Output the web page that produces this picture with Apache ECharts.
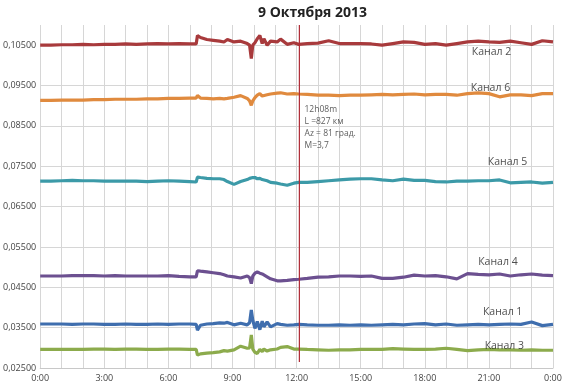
<!DOCTYPE html>
<html>
<head>
<meta charset="utf-8">
<script src="https://cdn.jsdelivr.net/npm/echarts@6/dist/echarts.min.js"></script>
<style>html,body{margin:0;padding:0;background:#fff;}#c{width:571px;height:390px;}</style>
</head>
<body>
<div id="c"></div>
<script>
const title = '9 Октября 2013';
const hours = [0,0.5,1,1.5,2,2.5,3,3.5,4,4.5,5,5.5,6,6.5,7,
  7.3,7.36,7.5,7.8,8.1,8.4,8.6,8.76,9.07,9.38,9.69,9.8,9.88,9.95,10.05,10.16,10.28,10.39,10.47,10.62,10.78,11.09,11.25,11.56,11.87,12.1,
  12.5,13,13.5,14,14.5,15,15.5,16,16.5,17,17.5,18,18.5,19,19.5,20,20.5,21,21.5,22,22.5,23,23.5,24];

const channel2 = [0.1050,0.1050,0.1051,0.1051,0.1052,0.1051,0.1052,0.1052,0.1053,0.1052,0.1053,0.1054,0.1053,0.1054,0.1053,
  0.1053,0.1074,0.1069,0.1064,0.1062,0.1060,0.1058,0.1064,0.1058,0.1060,0.1054,0.1050,0.1017,0.1050,0.1056,0.1066,0.1074,0.1054,0.1066,0.1050,0.1060,0.1058,0.1065,0.1052,0.1056,0.1052,
  0.1054,0.1055,0.1061,0.1054,0.1054,0.1054,0.1053,0.1050,0.1054,0.1058,0.1057,0.1052,0.1054,0.1050,0.1054,0.1058,0.1060,0.1058,0.1057,0.1060,0.1056,0.1052,0.1061,0.1058];
const channel6 = [0.0913,0.0913,0.0914,0.0914,0.0914,0.0915,0.0915,0.0916,0.0916,0.0916,0.0917,0.0917,0.0918,0.0918,0.0919,
  0.0919,0.0925,0.0919,0.0918,0.0917,0.0918,0.0917,0.0918,0.0921,0.0925,0.0918,0.0912,0.0901,0.0912,0.0920,0.0926,0.0930,0.0924,0.0926,0.0927,0.0929,0.0931,0.0932,0.0929,0.0930,0.0929,
  0.0928,0.0926,0.0926,0.0925,0.0926,0.0926,0.0927,0.0928,0.0927,0.0928,0.0929,0.0927,0.0928,0.0928,0.0926,0.0930,0.0932,0.0930,0.0922,0.0927,0.0927,0.0925,0.0930,0.0930];
const channel5 = [0.0713,0.0713,0.0714,0.0715,0.0714,0.0714,0.0713,0.0713,0.0713,0.0713,0.0712,0.0713,0.0714,0.0713,0.0712,
  0.0711,0.0723,0.0722,0.0720,0.0719,0.0719,0.0717,0.0712,0.0705,0.0712,0.0717,0.0720,0.0719,0.0722,0.0722,0.0719,0.0720,0.0717,0.0716,0.0714,0.0710,0.0708,0.0706,0.0703,0.0708,0.0710,
  0.0710,0.0712,0.0714,0.0716,0.0718,0.0719,0.0719,0.0716,0.0714,0.0718,0.0715,0.0715,0.0712,0.0711,0.0713,0.0713,0.0714,0.0714,0.0716,0.0709,0.0710,0.0711,0.0708,0.0710];
const channel4 = [0.0478,0.0478,0.0478,0.0479,0.0479,0.0479,0.0478,0.0479,0.0478,0.0478,0.0478,0.0478,0.0479,0.0477,0.0476,
  0.0476,0.0491,0.0490,0.0488,0.0486,0.0484,0.0481,0.0478,0.0476,0.0473,0.0478,0.0474,0.0459,0.0478,0.0485,0.0488,0.0485,0.0483,0.0481,0.0476,0.0471,0.0466,0.0466,0.0467,0.0469,0.0470,
  0.0472,0.0475,0.0476,0.0478,0.0478,0.0477,0.0478,0.0472,0.0472,0.0475,0.0480,0.0478,0.0479,0.0476,0.0471,0.0484,0.0482,0.0481,0.0483,0.0478,0.0481,0.0483,0.0480,0.0479];
const channel1 = [0.0359,0.0359,0.0359,0.0358,0.0359,0.0359,0.0358,0.0358,0.0359,0.0358,0.0358,0.0359,0.0358,0.0359,0.0359,
  0.0358,0.0344,0.0356,0.0359,0.0360,0.0362,0.0361,0.0363,0.0357,0.0361,0.0357,0.0362,0.0394,0.0368,0.0348,0.0365,0.0345,0.0366,0.0352,0.0364,0.0352,0.0360,0.0358,0.0356,0.0357,0.0358,
  0.0357,0.0356,0.0356,0.0357,0.0356,0.0357,0.0356,0.0357,0.0358,0.0357,0.0359,0.0360,0.0357,0.0359,0.0356,0.0357,0.0358,0.0357,0.0358,0.0359,0.0358,0.0364,0.0355,0.0358];
const channel3 = [0.0296,0.0296,0.0296,0.0296,0.0296,0.0297,0.0297,0.0296,0.0297,0.0297,0.0296,0.0296,0.0297,0.0297,0.0296,
  0.0296,0.0282,0.0285,0.0287,0.0288,0.0290,0.0293,0.0292,0.0295,0.0304,0.0299,0.0300,0.0332,0.0297,0.0289,0.0286,0.0296,0.0291,0.0297,0.0292,0.0295,0.0297,0.0301,0.0303,0.0297,0.0297,
  0.0296,0.0295,0.0294,0.0295,0.0295,0.0296,0.0296,0.0296,0.0298,0.0297,0.0296,0.0296,0.0297,0.0299,0.0296,0.0293,0.0295,0.0296,0.0295,0.0295,0.0294,0.0295,0.0294,0.0294];

const channelNames = ['Канал 2','Канал 6','Канал 5','Канал 4','Канал 1','Канал 3'];
const channelData = [channel2, channel6, channel5, channel4, channel1, channel3];
const channelColors = ['#a83a3c','#e08a3e','#3c9aa8','#6c5090','#3f6eae','#8cab4c'];
// label anchors [hour, value]
const labelHours = [20.2, 20.15, 20.95, 20.5, 20.72, 20.8];
const labelValues = [0.1032, 0.0943, 0.0760, 0.0512, 0.0389, 0.0304];

const eventHour = 12.13;
const eventRange = [0.0265, 0.110];
const eventText = '12h08m\nL =827 км\nAz = 81 град.\nM=3,7';
const eventAnchor = [12.37, 0.0847];

const chart = echarts.init(document.getElementById('c'));
const series = channelData.map((arr, i) => ({
  name: channelNames[i],
  type: 'line',
  data: hours.map((h, j) => [h, arr[j]]),
  showSymbol: false,
  symbol: 'none',
  lineStyle: { width: 3.2, color: channelColors[i] },
  itemStyle: { color: channelColors[i] },
  z: 3
}));
series.push({
  type: 'line',
  data: eventRange.map(v => [eventHour, v]),
  showSymbol: false, symbol: 'none',
  lineStyle: { width: 1.2, color: '#b02a35' },
  z: 4
});
series.push({
  type: 'scatter',
  symbolSize: 0,
  data: channelNames.map((n, i) => ({ name: n, value: [labelHours[i], labelValues[i]] })),
  label: { show: true, position: 'right', distance: 0, formatter: p => p.name,
    fontFamily: 'Open Sans, sans-serif', fontSize: 10.5, color: '#222' },
  z: 5
});
series.push({
  type: 'scatter',
  symbolSize: 0,
  data: [{ name: eventText, value: eventAnchor }],
  label: { show: true, position: 'right', distance: 0, formatter: p => p.name,
    fontFamily: 'Open Sans, sans-serif', fontSize: 8.5, lineHeight: 12, color: '#333' },
  z: 5
});

chart.setOption({
  animation: false,
  backgroundColor: '#fff',
  title: { text: title, left: 253, top: 1,
    textStyle: { fontFamily: 'Open Sans, sans-serif', fontSize: 14, fontWeight: 'bold', color: '#222' } },
  grid: { left: 39, right: 18, top: 25, bottom: 22 },
  xAxis: {
    type: 'value', min: 0, max: 24, interval: 1,
    axisLine: { show: true, lineStyle: { color: '#c8c8c8' } },
    axisTick: { show: false },
    axisLabel: { fontFamily: 'Open Sans, sans-serif', fontSize: 9, color: '#444', margin: 6,
      formatter: v => (v % 3 === 0 ? (v % 24) + ':00' : '') },
    splitLine: { show: true, lineStyle: { color: '#d6d6d6', width: 1 } }
  },
  yAxis: {
    type: 'value', min: 0.025, max: 0.110, interval: 0.01,
    axisLine: { show: false },
    axisTick: { show: false },
    axisLabel: { fontFamily: 'Open Sans, sans-serif', fontSize: 9, color: '#444', margin: 4,
      showMaxLabel: false,
      formatter: v => v.toFixed(5).replace('.', ',') },
    splitLine: { show: true, showMaxLine: false, lineStyle: { color: '#d6d6d6', width: 1 } }
  },
  series: series
});
</script>
</body>
</html>
